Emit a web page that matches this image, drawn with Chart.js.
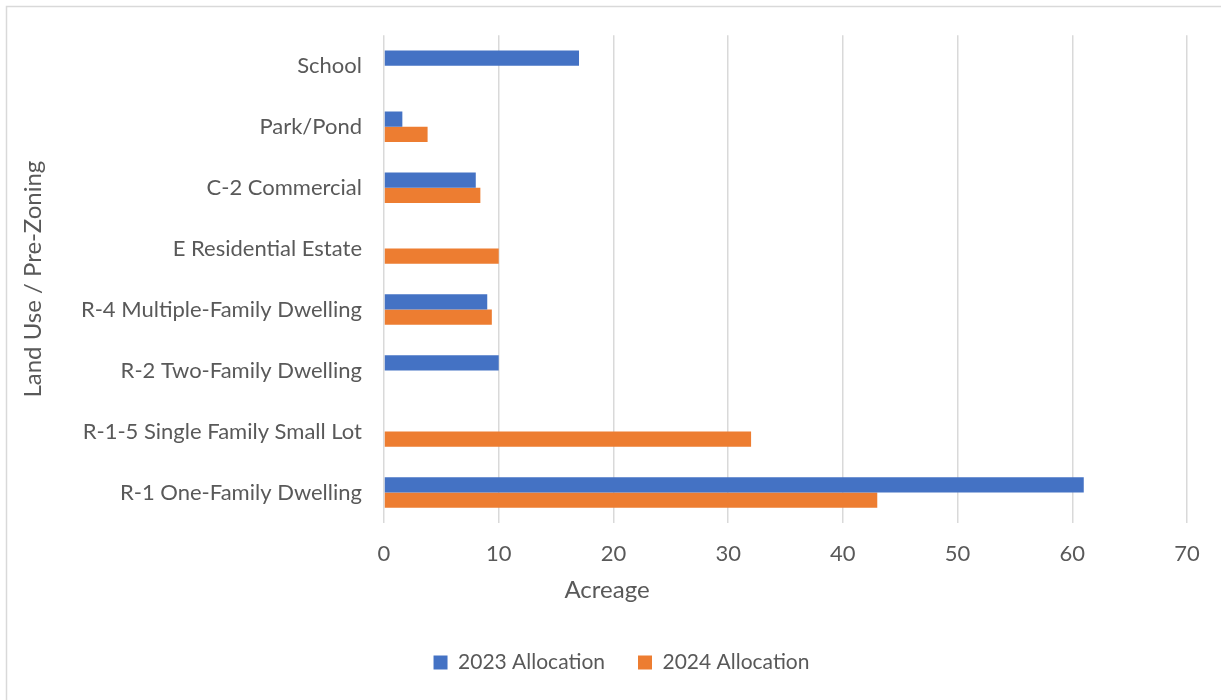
<!DOCTYPE html>
<html><head><meta charset="utf-8">
<script src="https://cdn.jsdelivr.net/npm/chart.js"></script>
<style>html,body{margin:0;padding:0;background:#fff;overflow:hidden}</style>
</head><body>
<canvas id="c" width="1221" height="700"></canvas>
<script>
const categories = [
  'School',
  'Park/Pond',
  'C-2 Commercial',
  'E Residential Estate',
  'R-4 Multiple-Family Dwelling',
  'R-2 Two-Family Dwelling',
  'R-1-5 Single Family Small Lot',
  'R-1 One-Family Dwelling'
];
const allocation2023 = [17, 1.6, 8, null, 9, 10, null, 61];
const allocation2024 = [null, 3.8, 8.4, 10, 9.4, null, 32, 43];
const seriesNames = ['2023 Allocation', '2024 Allocation'];
const xMin = 0, xMax = 70, xStep = 10;
const axisTitleX = 'Acreage';
const axisTitleY = 'Land Use / Pre-Zoning';

const FONT = 'Lato';
const TXT = '#595959';

const framePlugin = {
  id: 'frame',
  afterLayout(chart) {
    // shift legend to match the reference's horizontal placement
    const lg = chart.legend;
    if (lg) { lg.left += 25; lg.right += 25; }
  },
  beforeDraw(chart) {
    const ctx = chart.ctx;
    ctx.save();
    ctx.fillStyle = '#fff';
    ctx.fillRect(0, 0, chart.width, chart.height);
    ctx.strokeStyle = '#d9d9d9';
    ctx.lineWidth = 1.5;
    ctx.beginPath();
    ctx.moveTo(6.5, chart.height + 5);
    ctx.lineTo(6.5, 6.5);
    ctx.lineTo(chart.width + 5, 6.5);
    ctx.stroke();
    ctx.restore();
  },
  afterDraw(chart) {
    const ctx = chart.ctx;
    ctx.save();
    ctx.fillStyle = TXT;
    ctx.font = '24px ' + FONT;
    ctx.textAlign = 'center';
    ctx.textBaseline = 'middle';
    ctx.fillText(axisTitleX, 607, 590);
    ctx.restore();
  }
};

new Chart(document.getElementById('c'), {
  type: 'bar',
  data: {
    labels: categories,
    datasets: [
      { label: seriesNames[0], data: allocation2023, backgroundColor: '#4472C4', categoryPercentage: 0.5, barPercentage: 1.0 },
      { label: seriesNames[1], data: allocation2024, backgroundColor: '#ED7D31', categoryPercentage: 0.5, barPercentage: 1.0 }
    ]
  },
  options: {
    indexAxis: 'y',
    responsive: false,
    animation: false,
    layout: { padding: { left: 6, right: 34, top: 35, bottom: 17 } },
    plugins: {
      tooltip: { enabled: false },
      legend: {
        position: 'bottom',
        labels: { boxWidth: 14, boxHeight: 14, color: TXT, font: { family: FONT, size: 21 }, padding: 33 }
      }
    },
    scales: {
      x: {
        min: xMin, max: xMax,
        ticks: { stepSize: xStep, color: TXT, font: { family: FONT, size: 22 }, padding: 18 },
        grid: { color: '#d9d9d9', lineWidth: 1.5, drawTicks: false },
        border: { display: false },
        title: { display: false },
        afterFit(s) { s.height = 96; }
      },
      y: {
        grid: { display: false, drawTicks: false },
        border: { display: false },
        ticks: { color: TXT, font: { family: FONT, size: 22 }, padding: 22 },
        title: { display: true, text: axisTitleY, color: TXT, font: { family: FONT, size: 24 }, padding: { top: 12.6, bottom: 0 } },
        afterFit(s) { s.width = 378; }
      }
    }
  },
  plugins: [framePlugin]
});
</script>
</body></html>
